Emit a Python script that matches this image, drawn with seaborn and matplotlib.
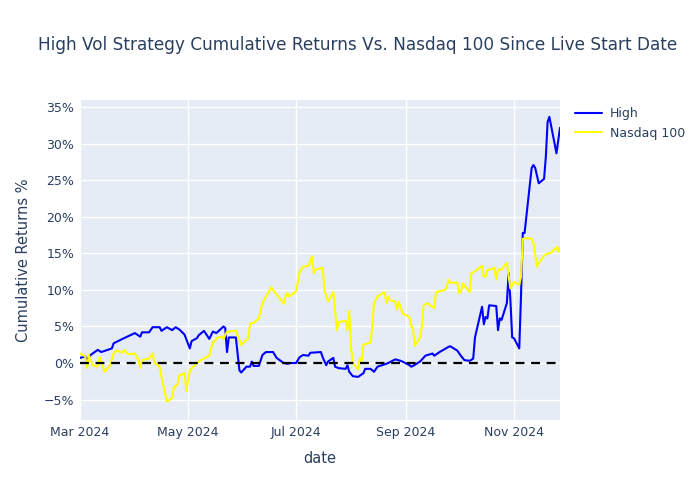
import pandas as pd
import matplotlib.pyplot as plt
import matplotlib.dates as mdates
from matplotlib.ticker import FuncFormatter
import seaborn as sns

# 策略累计收益 (%)
high_dates = [
    "2024-03-01", "2024-03-04", "2024-03-05", "2024-03-07", "2024-03-11", "2024-03-13",
    "2024-03-19", "2024-03-20", "2024-03-25", "2024-04-01", "2024-04-04", "2024-04-05",
    "2024-04-09", "2024-04-11", "2024-04-15", "2024-04-16", "2024-04-19", "2024-04-22",
    "2024-04-24", "2024-04-26", "2024-04-29", "2024-05-02", "2024-05-03", "2024-05-06",
    "2024-05-07", "2024-05-10", "2024-05-13", "2024-05-15", "2024-05-17", "2024-05-21",
    "2024-05-22", "2024-05-23", "2024-05-24", "2024-05-28", "2024-05-30", "2024-05-31",
    "2024-06-03", "2024-06-05", "2024-06-06", "2024-06-07", "2024-06-10", "2024-06-12",
    "2024-06-14", "2024-06-18", "2024-06-20", "2024-06-24", "2024-06-26", "2024-06-28",
    "2024-07-01", "2024-07-03", "2024-07-05", "2024-07-08", "2024-07-09", "2024-07-15",
    "2024-07-16", "2024-07-18", "2024-07-19", "2024-07-22", "2024-07-23", "2024-07-25",
    "2024-07-29", "2024-07-30", "2024-07-31", "2024-08-02", "2024-08-05", "2024-08-08",
    "2024-08-09", "2024-08-12", "2024-08-14", "2024-08-16", "2024-08-21", "2024-08-22",
    "2024-08-26", "2024-08-29", "2024-08-30", "2024-09-03", "2024-09-04", "2024-09-05",
    "2024-09-09", "2024-09-12", "2024-09-16", "2024-09-17", "2024-09-20", "2024-09-25",
    "2024-09-26", "2024-09-30", "2024-10-02", "2024-10-04", "2024-10-07", "2024-10-09",
    "2024-10-10", "2024-10-14", "2024-10-15", "2024-10-16", "2024-10-17", "2024-10-18",
    "2024-10-22", "2024-10-23", "2024-10-24", "2024-10-25", "2024-10-28", "2024-10-29",
    "2024-10-30", "2024-10-31", "2024-11-01", "2024-11-04", "2024-11-05", "2024-11-06",
    "2024-11-07", "2024-11-11", "2024-11-12", "2024-11-13", "2024-11-15", "2024-11-18",
    "2024-11-19", "2024-11-20", "2024-11-21", "2024-11-25", "2024-11-27",
]
high_vals = [
    0.7, 0.9, 0.4, 1.1, 1.8, 1.5,
    2.0, 2.7, 3.3, 4.1, 3.6, 4.2,
    4.2, 4.9, 4.9, 4.4, 4.9, 4.5,
    4.9, 4.6, 3.9, 2.0, 3.0, 3.4,
    3.8, 4.4, 3.3, 4.3, 4.1, 5.0,
    4.8, 1.5, 3.5, 3.5, -1.0, -1.3,
    -0.5, -0.5, 0.2, -0.4, -0.4, 1.1,
    1.5, 1.5, 0.7, 0.0, -0.1, 0.0,
    0.0, 0.8, 1.1, 1.0, 1.4, 1.5,
    0.8, -0.3, 0.2, 0.7, -0.5, -0.7,
    -0.8, -0.3, -1.2, -1.8, -1.9, -1.4,
    -0.8, -0.8, -1.2, -0.5, -0.1, 0.0,
    0.5, 0.3, 0.2, -0.3, -0.5, -0.4,
    0.2, 1.0, 1.3, 1.0, 1.5, 2.2,
    2.3, 1.7, 1.0, 0.4, 0.3, 0.6,
    3.5, 7.7, 5.3, 6.3, 6.1, 7.9,
    7.8, 4.5, 6.1, 5.9, 8.2, 12.3,
    8.6, 3.5, 3.4, 2.0, 9.3, 17.8,
    17.8, 26.7, 27.1, 26.7, 24.6, 25.2,
    28.2, 33.0, 33.7, 28.7, 32.2,
]

# 纳指100累计收益 (%)
ndx_dates = [
    "2024-03-01", "2024-03-04", "2024-03-05", "2024-03-06", "2024-03-08", "2024-03-11",
    "2024-03-12", "2024-03-15", "2024-03-18", "2024-03-20", "2024-03-22", "2024-03-25",
    "2024-03-26", "2024-03-28", "2024-04-01", "2024-04-03", "2024-04-04", "2024-04-05",
    "2024-04-09", "2024-04-11", "2024-04-12", "2024-04-15", "2024-04-16", "2024-04-19",
    "2024-04-22", "2024-04-23", "2024-04-25", "2024-04-26", "2024-04-29", "2024-04-30",
    "2024-05-02", "2024-05-06", "2024-05-07", "2024-05-09", "2024-05-13", "2024-05-15",
    "2024-05-16", "2024-05-17", "2024-05-20", "2024-05-21", "2024-05-23", "2024-05-28",
    "2024-05-31", "2024-06-04", "2024-06-05", "2024-06-07", "2024-06-10", "2024-06-12",
    "2024-06-17", "2024-06-18", "2024-06-24", "2024-06-25", "2024-06-26", "2024-06-27",
    "2024-07-01", "2024-07-03", "2024-07-05", "2024-07-08", "2024-07-10", "2024-07-11",
    "2024-07-12", "2024-07-16", "2024-07-17", "2024-07-19", "2024-07-22", "2024-07-24",
    "2024-07-25", "2024-07-29", "2024-07-30", "2024-07-31", "2024-08-01", "2024-08-02",
    "2024-08-05", "2024-08-06", "2024-08-07", "2024-08-08", "2024-08-12", "2024-08-13",
    "2024-08-14", "2024-08-16", "2024-08-19", "2024-08-20", "2024-08-21", "2024-08-22",
    "2024-08-23", "2024-08-26", "2024-08-27", "2024-08-28", "2024-08-30", "2024-09-03",
    "2024-09-04", "2024-09-05", "2024-09-06", "2024-09-09", "2024-09-10", "2024-09-11",
    "2024-09-13", "2024-09-17", "2024-09-18", "2024-09-23", "2024-09-24", "2024-09-25",
    "2024-09-26", "2024-09-30", "2024-10-01", "2024-10-02", "2024-10-03", "2024-10-07",
    "2024-10-08", "2024-10-09", "2024-10-14", "2024-10-15", "2024-10-16", "2024-10-17",
    "2024-10-21", "2024-10-22", "2024-10-23", "2024-10-25", "2024-10-28", "2024-10-30",
    "2024-11-01", "2024-11-04", "2024-11-05", "2024-11-06", "2024-11-08", "2024-11-11",
    "2024-11-12", "2024-11-14", "2024-11-15", "2024-11-18", "2024-11-20", "2024-11-22",
    "2024-11-25", "2024-11-26", "2024-11-27",
]
ndx_vals = [
    1.3, 0.9, -0.7, 1.1, -0.3, -0.5,
    0.8, -1.2, -0.3, 1.4, 1.7, 1.4,
    1.8, 1.2, 1.3, 0.4, -0.7, 0.4,
    0.6, 1.3, 0.0, -0.5, -1.9, -5.3,
    -4.8, -3.3, -3.0, -1.7, -1.4, -3.8,
    -1.0, 0.0, 0.2, 0.5, 1.0, 2.9,
    2.9, 3.4, 3.6, 3.3, 4.3, 4.4,
    2.5, 3.4, 5.4, 5.5, 6.1, 8.2,
    10.4, 10.0, 8.1, 9.1, 9.6, 9.1,
    9.8, 12.5, 13.2, 13.3, 14.6, 12.3,
    12.8, 13.0, 10.0, 8.4, 9.7, 4.5,
    5.6, 5.8, 4.5, 7.1, 2.2, 0.0,
    -0.9, 0.7, 0.0, 2.5, 2.8, 5.1,
    8.2, 9.1, 9.6, 9.7, 8.2, 9.1,
    8.6, 8.4, 7.3, 8.4, 6.8, 6.3,
    5.0, 4.9, 2.3, 3.5, 5.0, 7.9,
    8.2, 7.5, 9.7, 10.0, 10.4, 11.4,
    11.0, 11.0, 9.6, 9.7, 10.9, 9.7,
    12.3, 12.4, 13.3, 11.8, 11.9, 12.7,
    13.0, 11.4, 12.8, 12.8, 13.7, 10.2,
    11.1, 10.7, 11.8, 17.0, 17.1, 17.0,
    16.4, 13.2, 13.7, 14.7, 15.0, 15.1,
    15.9, 15.2, 15.9,
]

x_ticks = ["2024-03-01", "2024-05-01", "2024-07-01", "2024-09-01", "2024-11-01"]
y_ticks = [-5, 0, 5, 10, 15, 20, 25, 30, 35]

df = pd.concat([
    pd.DataFrame({"date": pd.to_datetime(high_dates), "ret": high_vals, "series": "High"}),
    pd.DataFrame({"date": pd.to_datetime(ndx_dates), "ret": ndx_vals, "series": "Nasdaq 100"}),
], ignore_index=True)

sns.set_theme(style="darkgrid", rc={
    "axes.facecolor": "#E5ECF6",
    "grid.color": "white",
    "grid.linewidth": 1.0,
    "axes.edgecolor": "#E5ECF6",
})
plt.rcParams["font.family"] = ["DejaVu Sans"]
txt = "#2a3f5f"

fig = plt.figure(figsize=(7, 5), dpi=100)
ax = fig.add_axes([80 / 700, 80 / 500, 480 / 700, 320 / 500])

sns.lineplot(data=df, x="date", y="ret", hue="series",
             palette={"High": "blue", "Nasdaq 100": "yellow"},
             linewidth=1.5, ax=ax, estimator=None)
ax.axhline(0, color="black", linestyle=(0, (4, 3)), linewidth=1.6, zorder=3)

ax.set_xlim(df["date"].min(), df["date"].max())
ax.set_ylim(-7.8, 36)
ax.set_xticks(pd.to_datetime(x_ticks))
ax.xaxis.set_major_formatter(mdates.DateFormatter("%b %Y"))
ax.set_yticks(y_ticks)
ax.yaxis.set_major_formatter(FuncFormatter(lambda v, p: f"{v:.0f}%".replace("-", "\u2212")))
ax.tick_params(axis="both", labelsize=9, colors=txt, length=0, pad=4)
for s in ax.spines.values():
    s.set_visible(False)

ax.set_xlabel("date", fontsize=10.5, color=txt, labelpad=9)
ax.set_ylabel("Cumulative Returns %", fontsize=10.5, color=txt, labelpad=9)
fig.text(0.511, 0.91, "High Vol Strategy Cumulative Returns Vs. Nasdaq 100 Since Live Start Date",
         ha="center", va="center", fontsize=12.2, color=txt)

leg = ax.legend(loc="upper left", bbox_to_anchor=(1.015, 1.0), frameon=False,
                fontsize=9, handlelength=2.2, handletextpad=0.6, borderaxespad=0.2)
for t in leg.get_texts():
    t.set_color(txt)

fig.savefig("out.png", dpi=100)
